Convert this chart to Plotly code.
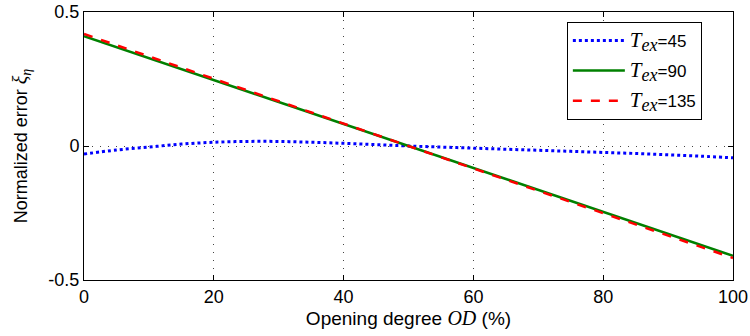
import plotly.graph_objects as go

od_45 = [0, 5, 10, 15, 20, 25, 30, 35, 40, 45, 50, 55, 60, 65, 70, 75, 80, 85, 90, 95, 100]
err_45 = [-0.030, -0.015, -0.004, 0.007, 0.014, 0.017, 0.017, 0.014, 0.010, 0.005, 0.000,
          -0.004, -0.008, -0.012, -0.016, -0.020, -0.024, -0.028, -0.033, -0.038, -0.044]
od_lin = [0, 50, 100]
err_90 = [0.410, 0.0, -0.410]
err_135 = [0.418, 0.0, -0.418]

x_ticks = [0, 20, 40, 60, 80, 100]
y_ticks = [-0.5, 0, 0.5]
y_tick_labels = ["-0.5", "0", "0.5"]

def tex(v):
    return ('<span style="font-family:Liberation Serif;font-size:21px"><i>T</i></span>'
            '<sub><span style="font-family:Liberation Serif;font-size:18px"><i>ex</i></span></sub>=' + str(v))

fig = go.Figure()
fig.add_trace(go.Scatter(x=od_45, y=err_45, mode="lines", name=tex(45), legendgroup="a",
                         line=dict(color="#0000ff", width=3, dash="dot", shape="spline")))
fig.add_trace(go.Scatter(x=od_lin, y=err_90, mode="lines", name=tex(90), legendgroup="b",
                         line=dict(color="#008000", width=2.5)))
fig.add_trace(go.Scatter(x=od_lin, y=err_135, mode="lines", name=tex(135), legendgroup="c",
                         line=dict(color="#ff0000", width=2.5, dash="dash")))

axis_common = dict(showline=True, linecolor="black", linewidth=1, mirror="ticks",
                   ticks="inside", ticklen=5, tickcolor="black", zeroline=False,
                   showgrid=True, gridcolor="#444444", griddash="1px,7px", gridwidth=1,
                   automargin=False,
                   tickfont=dict(family="Liberation Sans, Arial", size=18, color="black"))

fig.update_xaxes(range=[0, 100], tickvals=x_ticks,
                 title=dict(text='Opening degree <span style="font-family:Liberation Serif;font-size:20px"><i>OD</i></span> (%)',
                            font=dict(family="Liberation Sans, Arial", size=19, color="black"), standoff=4),
                 **axis_common)
fig.update_yaxes(range=[-0.5, 0.5], tickvals=y_ticks, ticktext=y_tick_labels,
                 title=dict(text='Normalized error <span style="font-family:Liberation Serif;font-size:20px"><i>ξ</i><sub><i>η</i></sub></span>',
                            font=dict(family="Liberation Sans, Arial", size=18, color="black"), standoff=16),
                 **axis_common)

fig.update_layout(
    width=750, height=336,
    margin=dict(l=84, r=17, t=12, b=56),
    plot_bgcolor="white", paper_bgcolor="white",
    font=dict(family="Liberation Sans, Arial", size=16, color="black"),
    legend=dict(x=0.744, y=0.963, xanchor="left", yanchor="top",
                bordercolor="black", borderwidth=1, bgcolor="white",
                font=dict(size=17), itemwidth=52, tracegroupgap=5,
                traceorder="grouped"),
    showlegend=True,
)

fig.write_html("out.html", config={"displayModeBar": False},
               post_script="document.body.style.margin='0';")
